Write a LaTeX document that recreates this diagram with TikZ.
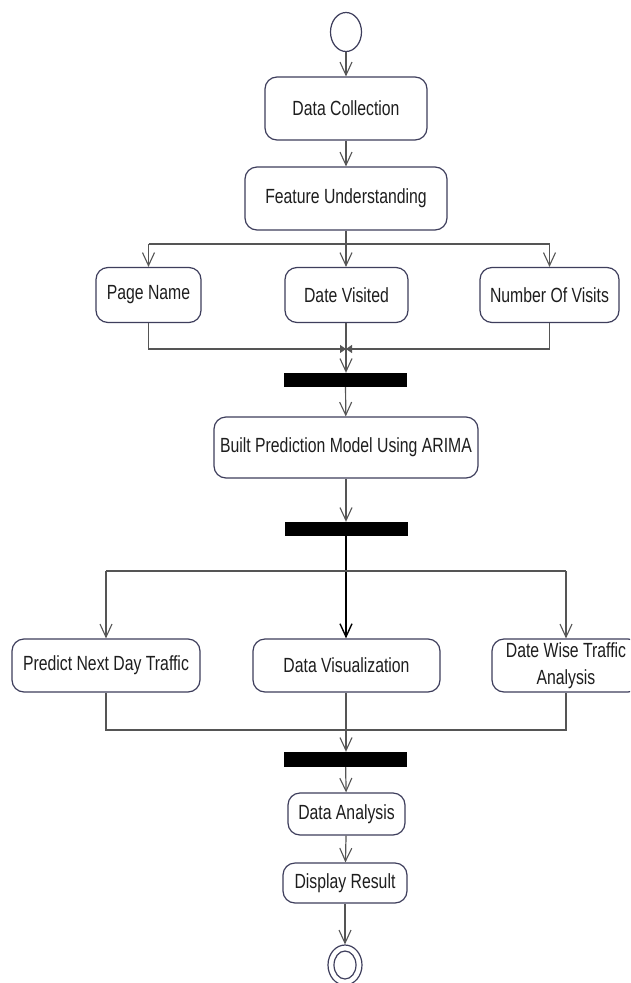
\documentclass[tikz,border=0pt]{standalone}
\usepackage{fontspec}
\setmainfont{Liberation Sans}[FakeStretch=0.77]
\usetikzlibrary{arrows.meta,shapes.geometric}
\definecolor{boxc}{HTML}{3E3E5C}
\definecolor{linec}{HTML}{555555}
\definecolor{txtc}{HTML}{1E1E1E}
\tikzset{
  act/.style={draw=boxc, line width=1.2pt, rounded corners=12pt, fill=white,
    text=txtc, font=\fontsize{20.5}{27}\selectfont, inner sep=0pt, align=center},
  bar/.style={fill=black, draw=none, minimum width=123pt, minimum height=14pt, inner sep=0pt},
  arr/.style={draw=linec, line width=1.2pt, -{Straight Barb[length=13pt,width=12pt,line width=1.1pt]}},
  ln/.style={draw=linec, line width=1.2pt},
  joinarr/.style={draw=linec, line width=1.2pt, -{Triangle[length=6pt,width=8pt]}},
}
\begin{document}
\begin{tikzpicture}[x=1pt,y=-1pt]
\clip (0,0) rectangle (630,983);
\fill[white] (0,0) rectangle (630,983);
% nodes
\node[ellipse, draw=boxc, line width=1.2pt, minimum width=31pt, minimum height=39pt, inner sep=0pt] (start) at (346,32) {};
\node[act, minimum width=162pt, minimum height=63pt] (dc) at (346,108.5) {Data Collection};
\node[act, minimum width=202pt, minimum height=63pt] (fu) at (346,198.5) {Feature Understanding};
\node[act, minimum width=105pt, minimum height=55pt] (pn) at (148.5,295) {Page Name};
\node[act, minimum width=123pt, minimum height=55pt] (dv) at (346.5,295) {Date Visited};
\node[act, minimum width=139pt, minimum height=55pt] (nv) at (549.5,295) {Number Of Visits};
\node[bar] (bar1) at (345.5,380) {};
\node[act, minimum width=264pt, minimum height=61pt] (bm) at (346,447.5) {Built Prediction Model Using ARIMA};
\node[bar] (bar2) at (346,529) {};
\node[act, minimum width=188pt, minimum height=53pt] (pt) at (106,665.5) {Predict Next Day Traffic};
\node[act, minimum width=187pt, minimum height=53pt] (vis) at (346.5,665.5) {Data Visualization};
\node[act, minimum width=148pt, minimum height=53pt] (dw) at (566,665.5) {Date Wise Traffic\\Analysis};
\node[bar, minimum height=15pt] (bar3) at (345.5,759.5) {};
\node[act, minimum width=117pt, minimum height=42pt] (da) at (346.5,814) {Data Analysis};
\node[act, minimum width=124pt, minimum height=40pt] (dr) at (345,883) {Display Result};
\node[ellipse, draw=boxc, line width=1.2pt, minimum width=34pt, minimum height=40pt, inner sep=0pt] (end) at (345,965) {};
\node[ellipse, draw=boxc, line width=1.2pt, minimum width=22pt, minimum height=28pt, inner sep=0pt] (endin) at (345,965) {};
% junction coordinates
\coordinate (b1) at (346,244);
\coordinate (j1) at (346,349);
\coordinate (b2) at (346,571);
\coordinate (j2) at (346,730);
% connectors
\draw[arr] (start) -- (dc);
\draw[arr] (dc) -- (fu);
\draw[ln] (fu.south) -- (b1);
\draw[ln] (pn.north |- b1) -- (nv.north |- b1);
\draw[arr] (pn.north |- b1) -- (pn.north);
\draw[arr] (b1) -- (dv.north -| b1);
\draw[arr] (nv.north |- b1) -- (nv.north);
\draw[ln] (dv.south -| j1) -- (j1);
\draw[joinarr] (pn.south) -- (pn.south |- j1) -- (j1);
\draw[joinarr] (nv.south) -- (nv.south |- j1) -- (j1);
\draw[arr] (j1) -- (bar1.north -| j1);
\draw[arr] (bar1) -- (bm);
\draw[arr] (bm) -- (bar2);
\draw[draw=black, line width=1.6pt, -{Straight Barb[length=13pt,width=12pt,line width=1.4pt]}] (bar2.south -| b2) -- (vis.north -| b2);
\draw[ln] (pt.north |- b2) -- (dw.north |- b2);
\draw[arr] (pt.north |- b2) -- (pt.north);
\draw[arr] (dw.north |- b2) -- (dw.north);
\draw[ln] (pt.south) -- (pt.south |- j2) -- (dw.south |- j2) -- (dw.south);
\draw[arr] (vis.south -| j2) -- (bar3.north -| j2);
\draw[arr] (bar3) -- (da);
\draw[arr] (da) -- (dr);
\draw[arr] (dr) -- (end);
\end{tikzpicture}
\end{document}
